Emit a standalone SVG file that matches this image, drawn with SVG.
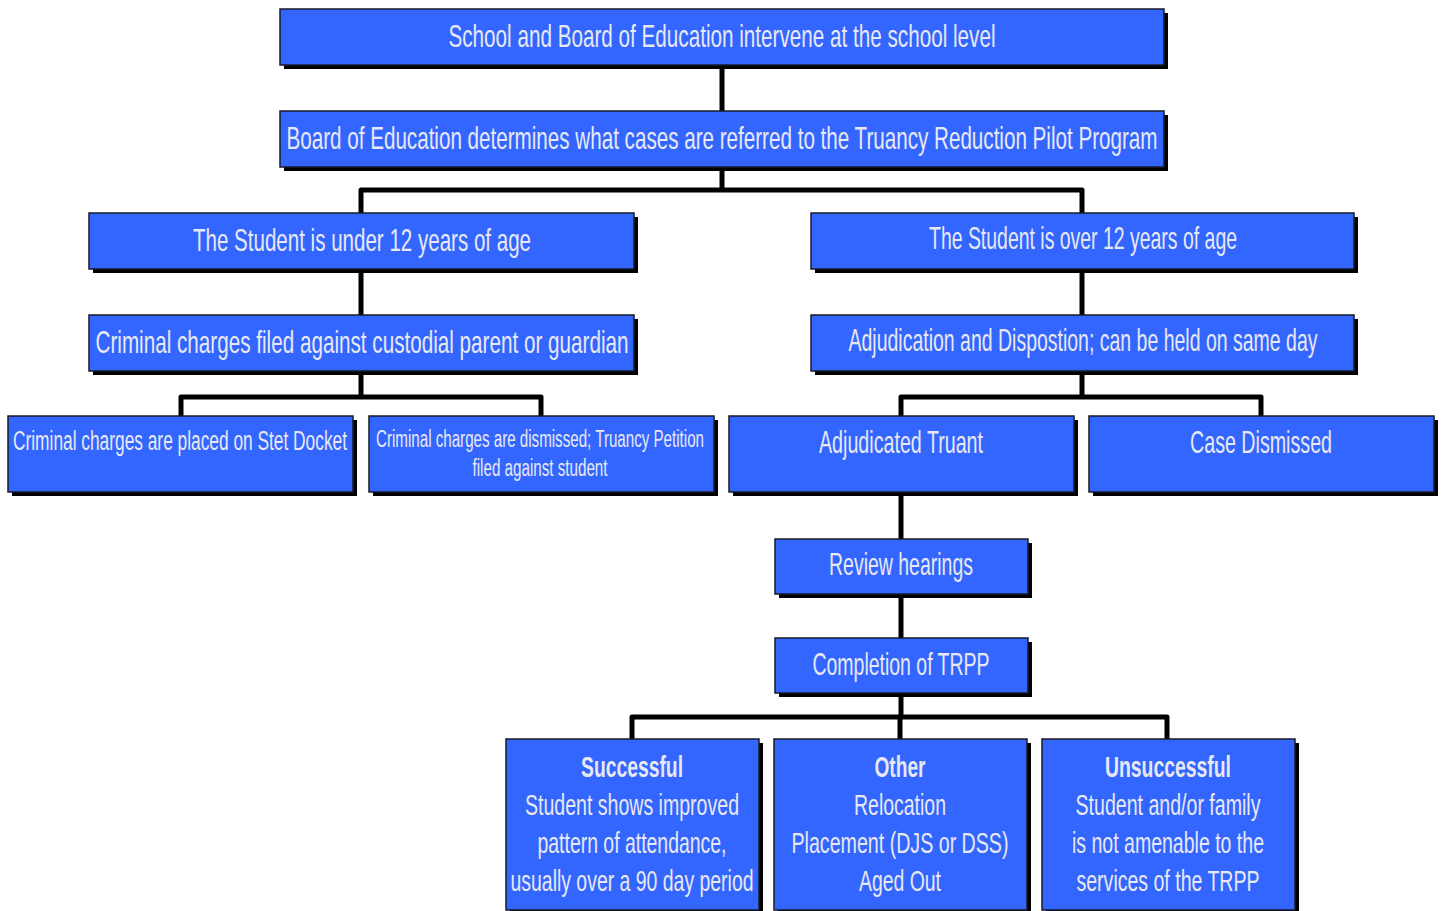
<svg xmlns="http://www.w3.org/2000/svg" width="1442" height="911" viewBox="0 0 1442 911">
<style>
.sh{fill:#000}
.bx{fill:#3366ff;stroke:#1a1a2a;stroke-width:1.5}
.t{font-family:"Liberation Sans",Arial,sans-serif;fill:#e8e8f2;text-anchor:middle}
.b{font-weight:bold}
.c{fill:none;stroke:#000;stroke-width:5;stroke-linejoin:round;stroke-linecap:butt}
</style>
<rect width="1442" height="911" fill="#fff"/>
<g id="connectors">
<path class="c" d="M722 65V111"/>
<path class="c" d="M722 167V190"/>
<path class="c" d="M361 213V190H1082V213"/>
<path class="c" d="M361 269V315"/>
<path class="c" d="M1082 269V315"/>
<path class="c" d="M361 371V397"/>
<path class="c" d="M181 416V397H541V416"/>
<path class="c" d="M1082 371V397"/>
<path class="c" d="M901 416V397H1261V416"/>
<path class="c" d="M901 492V539"/>
<path class="c" d="M901 593V638"/>
<path class="c" d="M901 692V717"/>
<path class="c" d="M632 739V717H1167V739"/>
<path class="c" d="M900 717V739"/>
</g>
<g id="n1"><rect class="sh" x="284" y="13" width="884" height="56"/><rect class="bx" x="280" y="9" width="884" height="56"/>
<text class="t" x="722" y="47" font-size="32" textLength="547" lengthAdjust="spacingAndGlyphs">School and Board of Education intervene at the school level</text></g>
<g id="n2"><rect class="sh" x="284" y="115" width="884" height="56"/><rect class="bx" x="280" y="111" width="884" height="56"/>
<text class="t" x="722" y="149" font-size="32" textLength="871" lengthAdjust="spacingAndGlyphs">Board of Education determines what cases are referred to the Truancy Reduction Pilot Program</text></g>
<g id="n3"><rect class="sh" x="93" y="217" width="545" height="56"/><rect class="bx" x="89" y="213" width="545" height="56"/>
<text class="t" x="362" y="251" font-size="32" textLength="338" lengthAdjust="spacingAndGlyphs">The Student is under 12 years of age</text></g>
<g id="n4"><rect class="sh" x="815" y="217" width="543" height="56"/><rect class="bx" x="811" y="213" width="543" height="56"/>
<text class="t" x="1083" y="249" font-size="32" textLength="308" lengthAdjust="spacingAndGlyphs">The Student is over 12 years of age</text></g>
<g id="n5"><rect class="sh" x="93" y="319" width="545" height="56"/><rect class="bx" x="89" y="315" width="545" height="56"/>
<text class="t" x="362" y="353" font-size="32" textLength="533" lengthAdjust="spacingAndGlyphs">Criminal charges filed against custodial parent or guardian</text></g>
<g id="n6"><rect class="sh" x="815" y="319" width="543" height="56"/><rect class="bx" x="811" y="315" width="543" height="56"/>
<text class="t" x="1083" y="351" font-size="32" textLength="469" lengthAdjust="spacingAndGlyphs">Adjudication and Dispostion; can be held on same day</text></g>
<g id="n7"><rect class="sh" x="12" y="420" width="345" height="76"/><rect class="bx" x="8" y="416" width="345" height="76"/>
<text class="t" x="180" y="450" font-size="27" textLength="334" lengthAdjust="spacingAndGlyphs">Criminal charges are placed on Stet Docket</text></g>
<g id="n8"><rect class="sh" x="373" y="420" width="345" height="76"/><rect class="bx" x="369" y="416" width="345" height="76"/>
<text class="t" x="540" y="447" font-size="23" textLength="328" lengthAdjust="spacingAndGlyphs">Criminal charges are dismissed; Truancy Petition</text>
<text class="t" x="540" y="476" font-size="23" textLength="135" lengthAdjust="spacingAndGlyphs">filed against student</text></g>
<g id="n9"><rect class="sh" x="733" y="420" width="345" height="76"/><rect class="bx" x="729" y="416" width="345" height="76"/>
<text class="t" x="901" y="453" font-size="32" textLength="164" lengthAdjust="spacingAndGlyphs">Adjudicated Truant</text></g>
<g id="n10"><rect class="sh" x="1093" y="420" width="345" height="76"/><rect class="bx" x="1089" y="416" width="345" height="76"/>
<text class="t" x="1261" y="453" font-size="32" textLength="142" lengthAdjust="spacingAndGlyphs">Case Dismissed</text></g>
<g id="n11"><rect class="sh" x="779" y="543" width="253" height="55"/><rect class="bx" x="775" y="539" width="253" height="55"/>
<text class="t" x="901" y="575" font-size="32" textLength="144" lengthAdjust="spacingAndGlyphs">Review hearings</text></g>
<g id="n12"><rect class="sh" x="779" y="642" width="253" height="55"/><rect class="bx" x="775" y="638" width="253" height="55"/>
<text class="t" x="901" y="675" font-size="32" textLength="177" lengthAdjust="spacingAndGlyphs">Completion of TRPP</text></g>
<g id="n13"><rect class="sh" x="510" y="743" width="253" height="171"/><rect class="bx" x="506" y="739" width="253" height="171"/>
<text class="t b" x="632" y="777" font-size="29" textLength="102" lengthAdjust="spacingAndGlyphs">Successful</text>
<text class="t" x="632" y="815" font-size="29" textLength="214" lengthAdjust="spacingAndGlyphs">Student shows improved</text>
<text class="t" x="632" y="853" font-size="29" textLength="189" lengthAdjust="spacingAndGlyphs">pattern of attendance,</text>
<text class="t" x="632" y="891" font-size="29" textLength="243" lengthAdjust="spacingAndGlyphs">usually over a 90 day period</text></g>
<g id="n14"><rect class="sh" x="778" y="743" width="253" height="171"/><rect class="bx" x="774" y="739" width="253" height="171"/>
<text class="t b" x="900" y="777" font-size="29" textLength="51" lengthAdjust="spacingAndGlyphs">Other</text>
<text class="t" x="900" y="815" font-size="29" textLength="92" lengthAdjust="spacingAndGlyphs">Relocation</text>
<text class="t" x="900" y="853" font-size="29" textLength="217" lengthAdjust="spacingAndGlyphs">Placement (DJS or DSS)</text>
<text class="t" x="900" y="891" font-size="29" textLength="82" lengthAdjust="spacingAndGlyphs">Aged Out</text></g>
<g id="n15"><rect class="sh" x="1046" y="743" width="253" height="171"/><rect class="bx" x="1042" y="739" width="253" height="171"/>
<text class="t b" x="1168" y="777" font-size="29" textLength="126" lengthAdjust="spacingAndGlyphs">Unsuccessful</text>
<text class="t" x="1168" y="815" font-size="29" textLength="185" lengthAdjust="spacingAndGlyphs">Student and/or family</text>
<text class="t" x="1168" y="853" font-size="29" textLength="192" lengthAdjust="spacingAndGlyphs">is not amenable to the</text>
<text class="t" x="1168" y="891" font-size="29" textLength="183" lengthAdjust="spacingAndGlyphs">services of the TRPP</text></g>
</svg>
